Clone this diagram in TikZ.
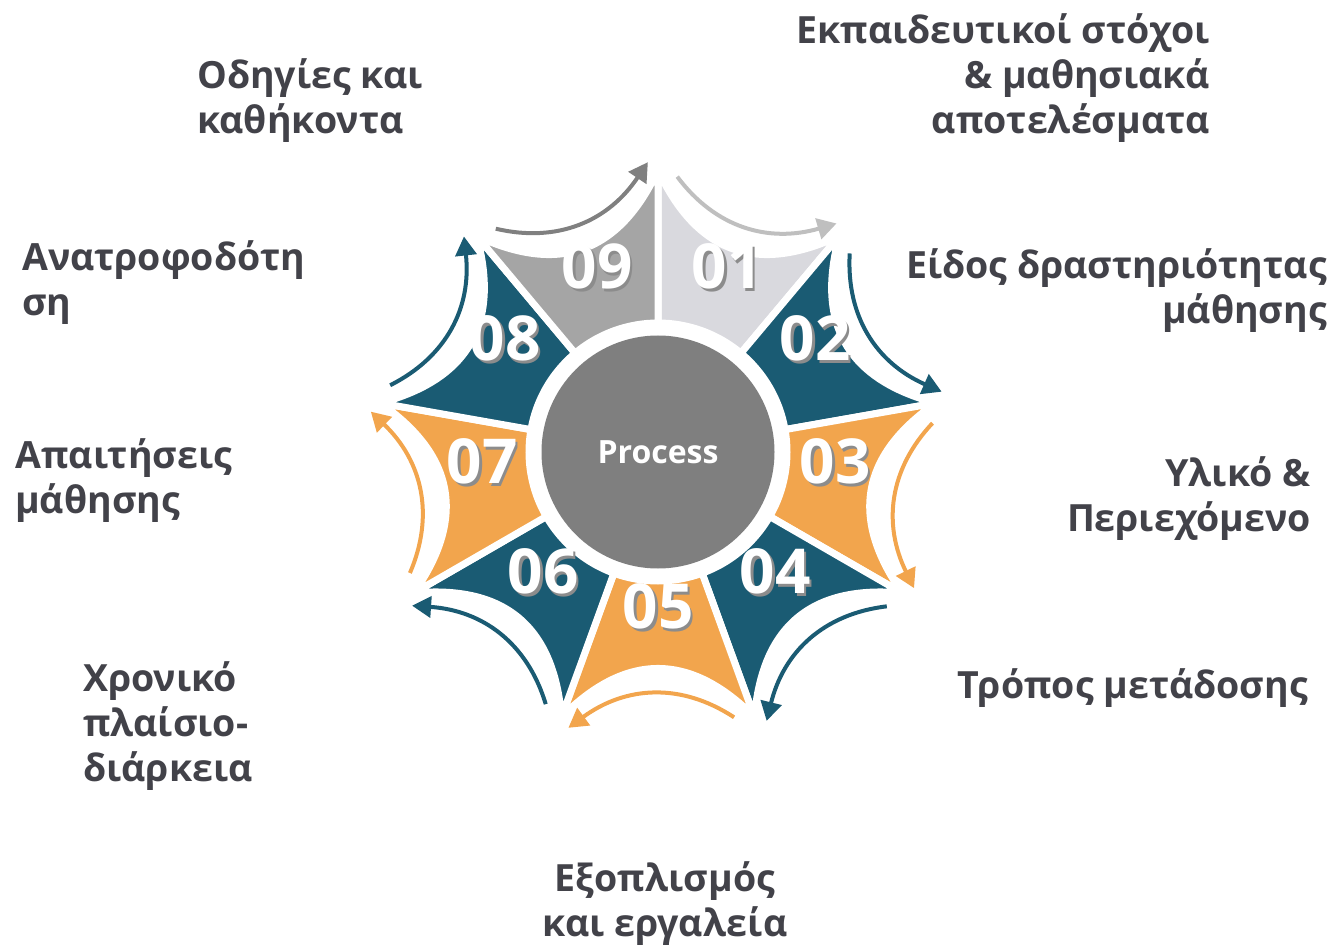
\documentclass[tikz,border=0pt]{standalone}
\usepackage{fontspec}
\setmainfont{Open Sans}
\usepackage{tikz}
\usetikzlibrary{calc, arrows.meta}
\definecolor{seglight}{HTML}{D9D9DE}
\definecolor{seggray}{HTML}{A5A5A5}
\definecolor{segteal}{HTML}{1A5B73}
\definecolor{segorange}{HTML}{F2A54D}
\definecolor{arrlight}{HTML}{BFBFBF}
\definecolor{arrgray}{HTML}{808080}
\definecolor{hubgray}{HTML}{7F7F7F}
\definecolor{textgray}{HTML}{424249}
\tikzstyle{segment} = [draw = white, line width = 7pt, line join = miter]
\tikzstyle{flow} = [line width = 4pt, -{Triangle[length = 19pt, width = 21pt]}]
\tikzstyle{hub} = [circle, minimum size = 233pt, inner sep = 0pt, fill = hubgray, text = white, font = \fontsize{32}{32}\selectfont\bfseries]
\tikzstyle{number} = [inner sep = 0pt, text = white, font = \fontsize{62}{62}\selectfont\bfseries]
\tikzstyle{topic} = [inner sep = 0pt, text = textgray, font = \fontsize{37.5}{45}\selectfont\bfseries]
\newcommand{\shadenum}[1]{\rlap{\kern2.5pt\raisebox{-2.5pt}{\textcolor{black!45}{#1}}}#1}

\begin{document}
\begin{tikzpicture}[x = 1pt, y = 1pt]
	\useasboundingbox (-658, -495) rectangle (674, 452);
	% star segments
	\foreach \i/\col in {1/seglight, 2/segteal, 3/segorange, 4/segteal, 5/segorange, 6/segteal, 7/segorange, 8/segteal, 9/seggray}{
		\pgfmathsetmacro{\ta}{130 - 40*\i}
		\pgfmathsetmacro{\tb}{\ta - 40}
		\pgfmathsetmacro{\tm}{\ta - 20}
		\coordinate (tipa\i) at (\ta:282);
		\coordinate (tipb\i) at (\tb:282);
		\coordinate (bend\i) at (\tm:168);
		\filldraw [segment, fill = \col] (\ta:129) -- (tipa\i) .. controls ($(tipa\i)!0.667!(bend\i)$) and ($(tipb\i)!0.667!(bend\i)$) .. (tipb\i) -- (\tb:129) arc [start angle = \tb, end angle = \ta, radius = 129] -- cycle;
	}
	\node (hub) [hub] at (0, 0) {Process};
	% curved arrows round the star
	\foreach \i/\col in {1/arrlight, 2/segteal, 3/segorange, 4/segteal, 5/segorange, 6/segteal, 7/segorange, 8/segteal, 9/arrgray}{
		\pgfmathsetmacro{\ta}{130 - 40*\i}
		\coordinate (from\i) at ({\ta - 4}:276);
		\coordinate (to\i) at ({\ta - 38}:290);
		\coordinate (pull\i) at ({\ta - 21}:213);
		\draw [flow, \col](from\i) .. controls ($(from\i)!0.667!(pull\i)$) and ($(to\i)!0.667!(pull\i)$) .. (to\i);
	}
	\foreach \i/\x/\y in {1/69/184, 2/157/112, 3/177/-11, 4/117/-121, 5/0/-156, 6/-115/-121, 7/-176/-11, 8/-153/112, 9/-61/184}
		\node (num\i) [number] at (\x, \y) {\shadenum{0\i}};
	
	\node (topic1) [topic, anchor = east, align = right] at (552, 374) {Εκπαιδευτικοί στόχοι\\ \& μαθησιακά\\ αποτελέσματα};
	\node (topic2) [topic, anchor = east, align = right] at (669, 161.5) {Είδος δραστηριότητας\\ μάθησης};
	\node (topic3) [topic, anchor = east, align = right] at (653, -46.5) {Υλικό \&\\ Περιεχόμενο};
	\node (topic4) [topic, anchor = east] at (650, -236) {Τρόπος μετάδοσης};
	\node (topic5) [topic, align = center] at (7, -452) {Εξοπλισμός\\ και εργαλεία};
	\node (topic6) [topic, anchor = west, align = left] at (-575, -274) {Χρονικό\\ πλαίσιο-\\ διάρκεια};
	\node (topic7) [topic, anchor = west, align = left] at (-643, -28.5) {Απαιτήσεις\\ μάθησης};
	\node (topic8) [topic, anchor = west, align = left] at (-636, 169) {Ανατροφοδότη\\ ση};
	\node (topic9) [topic, anchor = west, align = left] at (-461, 351.5) {Οδηγίες και\\ καθήκοντα};
\end{tikzpicture}
\end{document}
